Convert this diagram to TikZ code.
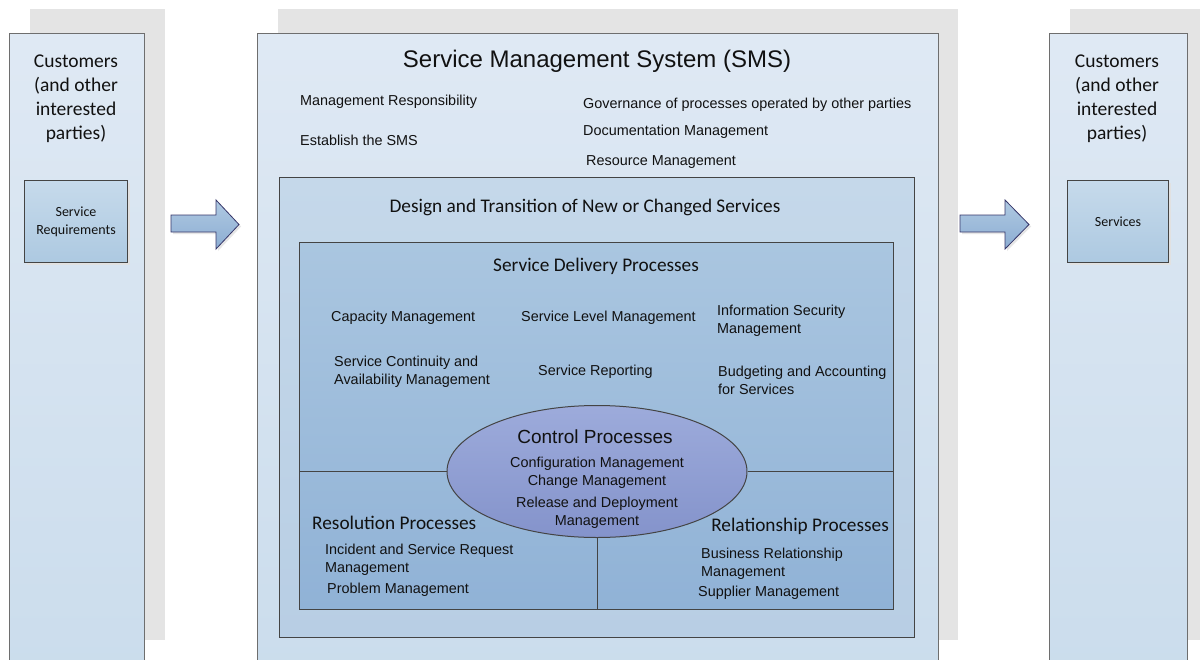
\documentclass[tikz,border=0pt]{standalone}
\usepackage{fontspec}
\setmainfont{Liberation Sans}
\newfontfamily\calib{Carlito}
\usetikzlibrary{shapes.geometric}
\definecolor{shadowgray}{HTML}{E4E4E4}
\definecolor{coltop}{HTML}{DFE9F4}
\definecolor{colbot}{HTML}{CADCEC}
\definecolor{dtop}{HTML}{C5D8EA}
\definecolor{dbot}{HTML}{B8CEE4}
\definecolor{sdtop}{HTML}{AAC6E0}
\definecolor{sdbot}{HTML}{90B2D6}
\definecolor{eltop}{HTML}{9DABDB}
\definecolor{elbot}{HTML}{8493CB}
\definecolor{rqtop}{HTML}{C6DAEB}
\definecolor{rqbot}{HTML}{ADC9E1}
\definecolor{artop}{HTML}{AFC9E2}
\definecolor{arbot}{HTML}{8CADD2}
\definecolor{outline}{HTML}{6E6E6E}
\definecolor{inline}{HTML}{444444}
\definecolor{txtc}{HTML}{111111}
\tikzset{
  colbox/.style={draw=outline, line width=1.4pt, top color=coltop, bottom color=colbot, anchor=north west, inner sep=0pt},
  reqbox/.style={draw=inline, line width=1pt, top color=rqtop, bottom color=rqbot, anchor=north west, inner sep=0pt},
  dbox/.style={draw=inline, line width=1pt, top color=dtop, bottom color=dbot, anchor=north west, inner sep=0pt},
  sdbox/.style={draw=inline, line width=1pt, top color=sdtop, bottom color=sdbot, anchor=north west, inner sep=0pt},
  ctl/.style={ellipse, draw=inline, line width=1pt, top color=eltop, bottom color=elbot, inner sep=0pt, minimum width=300pt, minimum height=132pt},
  txt/.style={font=\fontsize{14.4}{18}\selectfont, text=txtc, inner sep=0pt, align=left, yshift=-2pt},
  ctxt/.style={font=\fontsize{14.4}{18}\selectfont, text=txtc, inner sep=0pt, align=center, yshift=-2pt},
  cust/.style={font=\calib\fontsize{19.5}{24}\selectfont, text=txtc, inner sep=0pt, align=center, yshift=-2pt},
  head/.style={font=\calib\fontsize{19.3}{22}\selectfont, text=txtc, inner sep=0pt, yshift=-2pt},
  small/.style={font=\calib\fontsize{14}{18}\selectfont, text=txtc, inner sep=0pt, align=center},
  blockarrow/.style={draw=inline!80!blue, line width=0.8pt, top color=artop, bottom color=arbot},
  sep/.style={draw=inline, line width=1pt}
}
\begin{document}
\begin{tikzpicture}[x=1pt,y=-1pt]
\clip (0,0) rectangle (1200,659);
\fill[white] (0,0) rectangle (1200,659);
% shadows
\fill[shadowgray] (30,9) rectangle (165,640);
\fill[shadowgray] (278,9) rectangle (958,640);
\fill[shadowgray] (1070,9) rectangle (1210,640);
% left column
\node[colbox, minimum width=135pt, minimum height=660pt] (lcol) at (9,33) {};
\node[cust] (lcust) at (76,97) {Customers\\(and other\\interested\\parties)};
\fill[shadowgray!90!black!60!white] (27,183) rectangle (130,265);
\node[reqbox, minimum width=103pt, minimum height=82pt] (req) at (24,180) {};
\node[small] (reqt) at (req.center) {Service\\Requirements};
% right column
\node[colbox, minimum width=138pt, minimum height=660pt] (rcol) at (1049,33) {};
\node[cust] (rcust) at (1117,97) {Customers\\(and other\\interested\\parties)};
\fill[shadowgray!90!black!60!white] (1070,183) rectangle (1171,265);
\node[reqbox, minimum width=101pt, minimum height=82pt] (srv) at (1067,180) {};
\node[small] (srvt) at (srv.center) {Services};
% arrows
\fill[shadowgray!90!black!50!white] (173,217) -- (218,217) -- (218,202) -- (241,226.5) -- (218,251) -- (218,234) -- (173,234) -- cycle;
\path[blockarrow] (171,215) -- (216,215) -- (216,200) -- (239,224.5) -- (216,249) -- (216,232) -- (171,232) -- cycle;
\fill[shadowgray!90!black!50!white] (962,217) -- (1007,217) -- (1007,202) -- (1031,226.5) -- (1007,251) -- (1007,234) -- (962,234) -- cycle;
\path[blockarrow] (960,215) -- (1005,215) -- (1005,200) -- (1029,224.5) -- (1005,249) -- (1005,232) -- (960,232) -- cycle;
% SMS
\node[colbox, minimum width=681pt, minimum height=660pt] (sms) at (257,33) {};
\node[font=\fontsize{24}{28}\selectfont, text=txtc, inner sep=0pt] (smst) at (597,61) {Service Management System (SMS)};
\node[txt, anchor=west] (mr) at (300,100) {Management Responsibility};
\node[txt, anchor=west] (est) at (300,138) {Establish the SMS};
\node[txt, anchor=west] (gov) at (583,103) {Governance of processes operated by other parties};
\node[txt, anchor=west] (doc) at (583,130) {Documentation Management};
\node[txt, anchor=west] (res) at (586,160) {Resource Management};
% design and transition
\node[dbox, minimum width=635pt, minimum height=460pt] (dt) at (279,177) {};
\node[head] (dtt) at (585,205) {Design and Transition of New or Changed Services};
% service delivery
\node[sdbox, minimum width=594pt, minimum height=367pt] (sd) at (299,242) {};
\node[head] (sdt) at (596,264) {Service Delivery Processes};
\node[txt, anchor=west] (cap) at (331,316) {Capacity Management};
\node[txt, anchor=west] (slm) at (521,316) {Service Level Management};
\node[txt, anchor=west] (ism) at (717,319) {Information Security\\Management};
\node[txt, anchor=west] (scm) at (334,370) {Service Continuity and\\Availability Management};
\node[txt, anchor=west] (srp) at (538,370) {Service Reporting};
\node[txt, anchor=west] (bud) at (718,378) {Budgeting and Accounting\\for Services};
% control processes
\node[ctl] (ell) at (597,471.5) {};
\draw[sep] (sd.west |- ell.center) -- (ell.west);
\draw[sep] (ell.east) -- (sd.east |- ell.center);
\draw[sep] (ell.south) -- (ell.south |- sd.south);
\node[font=\fontsize{19}{22}\selectfont, text=txtc, inner sep=0pt] (ctlt) at (595,436.5) {Control Processes};
\node[ctxt] (cfg) at (597,471) {Configuration Management\\Change Management};
\node[ctxt] (rel) at (597,511) {Release and Deployment\\Management};
% resolution
\node[head, anchor=west] (rest) at (312,521) {Resolution Processes};
\node[txt, anchor=west] (inc) at (325,558) {Incident and Service Request\\Management};
\node[txt, anchor=west] (prb) at (327,588) {Problem Management};
% relationship
\node[head, anchor=east] (relt) at (889,524) {Relationship Processes};
\node[txt, anchor=west] (brm) at (701,562) {Business Relationship\\Management};
\node[txt, anchor=west] (sup) at (698,591) {Supplier Management};
\end{tikzpicture}
\end{document}
